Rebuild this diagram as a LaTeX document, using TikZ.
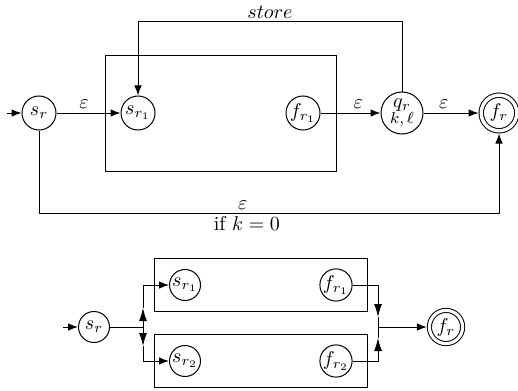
\documentclass[tikz,border=0pt]{standalone}
\usetikzlibrary{arrows.meta}
\begin{document}
\begin{tikzpicture}[x=0.5pt,y=-0.5pt, line width=0.5pt,
  state/.style={circle,draw,inner sep=0pt,minimum size=17pt},
  smallstate/.style={circle,draw,inner sep=0pt,minimum size=15.5pt},
  accept/.style={circle,draw,double,double distance=1.7pt,inner sep=0pt,minimum size=17.8pt,outer sep=1.35pt},
  groupbox/.style={draw,inner sep=0pt},
  arr/.style={-{Latex[length=5pt,width=3.8pt]}},
  midarr/.style={-{Latex[length=6.5pt,width=4pt]}},
  elab/.style={inner sep=2.2pt},
  blab/.style={inner sep=1.3pt}]
\useasboundingbox (0,0) rectangle (518,390);
% ---------- top diagram ----------
\node[groupbox, minimum width=115.5pt, minimum height=57.5pt] (boxT) at (220.5,113.5) {};
\node[state] (sr) at (39,113) {$s_r$};
\node[state] (sr1) at (138,113) {$s_{r_1}$};
\node[state] (fr1) at (303,113) {$f_{r_1}$};
\node[state, minimum size=21pt, align=center] (qr) at (402,113) {$q_r$\\[-4pt]{\footnotesize $k,\ell$}};
\node[accept] (fr) at (499,113) {$f_r$};
\coordinate (in1) at (7,113);
\coordinate (st1) at (138,22);
\coordinate (st2) at (402,22);
\coordinate (b1) at (39,213);
\coordinate (b2) at (499,213);
\draw[arr] (in1) -- (sr);
\draw[arr] (sr) -- node[elab, pos=0.43, above] {$\varepsilon$} (sr1);
\draw[arr] (fr1) -- node[elab, pos=0.63, above] {$\varepsilon$} (qr);
\draw[arr] (qr) -- node[elab, pos=0.37, above] {$\varepsilon$} (fr);
\draw[arr] (qr.north) -- (st2) -- node[inner sep=1.7pt, above] {$store$} (st1) -- (sr1.north);
\draw[arr] (sr.south) -- (b1) -- node[blab, pos=0.443, above] {$\varepsilon$} node[blab, pos=0.452, below] {if $k=0$} (b2) -- (fr.south);
% ---------- bottom diagram ----------
\node[groupbox, minimum width=106.5pt, minimum height=26.5pt] (boxA) at (260.5,284.5) {};
\node[groupbox, minimum width=106.5pt, minimum height=26.5pt] (boxB) at (260.5,360.5) {};
\node[smallstate] (Sr) at (94,327) {$s_r$};
\node[smallstate] (Sr1) at (185,285) {$s_{r_1}$};
\node[smallstate] (Sr2) at (185,361) {$s_{r_2}$};
\node[smallstate] (Fr1) at (336,285) {$f_{r_1}$};
\node[smallstate] (Fr2) at (336,361) {$f_{r_2}$};
\node[accept, minimum size=16.6pt, double distance=1.55pt, outer sep=1.3pt] (Fr) at (446,327) {$f_r$};
\coordinate (in2) at (63,327);
\coordinate (j1) at (143,327);
\coordinate (u1) at (143,308);
\coordinate (d1) at (143,346);
\coordinate (j2) at (378,327);
\coordinate (u2) at (378,317);
\coordinate (d2) at (378,338);
\draw[arr] (in2) -- (Sr);
\draw (Sr) -- (j1);
\draw[midarr] (j1) -- (u1);
\draw[arr] (u1) |- (Sr1);
\draw[midarr] (j1) -- (d1);
\draw[arr] (d1) |- (Sr2);
\draw[midarr] (Fr1) -| (u2);
\draw (u2) -- (j2);
\draw[midarr] (Fr2) -| (d2);
\draw (d2) -- (j2);
\draw[arr] (j2) -- (Fr);
\end{tikzpicture}
\end{document}
